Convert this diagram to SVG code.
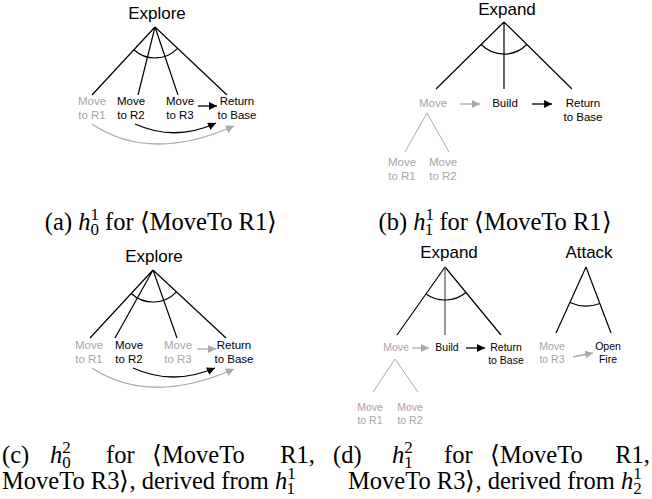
<svg xmlns="http://www.w3.org/2000/svg" width="652" height="499" viewBox="0 0 652 499">
<style>
.t{font-family:"Liberation Sans",Arial,sans-serif;font-size:17px;fill:#000;text-anchor:middle}
.l{font-family:"Liberation Sans",Arial,sans-serif;font-size:11.5px;text-anchor:middle}
.s{font-family:"Liberation Sans",Arial,sans-serif;font-size:10.5px;text-anchor:middle}
.k{fill:#000}
.g{fill:#a6a6a6}
.e{fill:none;stroke:#000;stroke-width:1.2}
.eg{fill:none;stroke:#aaaaaa;stroke-width:1}
.ak{fill:none;stroke:#000;stroke-width:1.3}
.ag{fill:none;stroke:#aaaaaa;stroke-width:1.3}
.c{font-family:"Liberation Serif","Times New Roman",serif;font-size:24.5px;fill:#000}
.i{font-style:italic}
.sc{font-size:17px}
</style>
<defs>
<marker id="mk" markerUnits="userSpaceOnUse" markerWidth="9" markerHeight="8" refX="8" refY="4" orient="auto"><path d="M0,0 L8,4 L0,8 z" fill="#000"/></marker>
<marker id="mg" markerUnits="userSpaceOnUse" markerWidth="9" markerHeight="8" refX="8" refY="4" orient="auto"><path d="M0,0 L8,4 L0,8 z" fill="#aaaaaa"/></marker>
</defs>

<g id="connectors">
<!-- (a) -->
<path class="e" d="M155,27 L92,95 M155,27 L138,95 M155,27 L178,95 M155,27 L227,95"/>
<path class="e" d="M133.9,49.7 A31,31 0 0 0 177.5,48.3"/>
<path class="ak" d="M198,106 L217,106" marker-end="url(#mk)"/>
<path class="ak" d="M135,124 Q175,142 216,123" marker-end="url(#mk)"/>
<path class="ag" d="M92,124 Q150,163 234,126" marker-end="url(#mg)"/>
<!-- (b) -->
<path class="e" d="M504,22 L436,89 M504,22 L504,89 M504,22 L572,89"/>
<path class="e" d="M481.2,44.5 A32,32 0 0 0 526.8,44.5"/>
<path class="eg" d="M427,113 L405,152 M427,113 L449,152"/>
<path class="ag" d="M460,104 L480,104" marker-end="url(#mg)"/>
<path class="ak" d="M532,104 L552,104" marker-end="url(#mk)"/>
<!-- (c) -->
<path class="e" d="M153,270 L90,338 M153,270 L115,338 M153,270 L177,338 M153,270 L226,338"/>
<path class="e" d="M131.25,293.5 A32,32 0 0 0 176.4,291.8"/>
<path class="ag" d="M197,349 L216,349" marker-end="url(#mg)"/>
<path class="ak" d="M133,368 Q173,386 215,368" marker-end="url(#mk)"/>
<path class="ag" d="M92,368 Q150,406 234,369" marker-end="url(#mg)"/>
<!-- (d) -->
<path class="e" d="M445,267 L397,335 M445,267 L501,335"/>
<path d="M445,267 L445,335" fill="none" stroke="#555" stroke-width="1.2"/>
<path class="e" d="M425.96,293.97 A33,33 0 0 0 465.98,292.47"/>
<path class="eg" d="M395,359 L373,392 M395,359 L418,392"/>
<path class="ag" d="M412,348 L429,348" marker-end="url(#mg)"/>
<path class="ak" d="M466,348 L485,348" marker-end="url(#mk)"/>
<path class="e" d="M586,267 L556,333 M586,267 L611,333"/>
<path class="e" d="M569.9,302.5 A39,39 0 0 0 599.8,303.5"/>
<path class="ag" d="M573,357 L593,353" marker-end="url(#mg)"/>
</g>

<!-- (a) nodes -->
<g id="a-explore"><text class="t" x="157" y="19">Explore</text></g>
<g id="a-moveR1"><text class="l g" x="92" y="105"><tspan x="92">Move</tspan><tspan x="92" dy="14">to R1</tspan></text></g>
<g id="a-moveR2"><text class="l k" x="131" y="105"><tspan x="131">Move</tspan><tspan x="131" dy="14">to R2</tspan></text></g>
<g id="a-moveR3"><text class="l k" x="180" y="105"><tspan x="180">Move</tspan><tspan x="180" dy="14">to R3</tspan></text></g>
<g id="a-return"><text class="l k" x="237" y="105"><tspan x="237">Return</tspan><tspan x="237" dy="14">to Base</tspan></text></g>

<!-- (b) nodes -->
<g id="b-expand"><text class="t" x="507" y="15">Expand</text></g>
<g id="b-move"><text class="l g" x="433" y="107">Move</text></g>
<g id="b-build"><text class="l k" x="505" y="107">Build</text></g>
<g id="b-return"><text class="l k" x="583" y="107"><tspan x="583">Return</tspan><tspan x="583" dy="14">to Base</tspan></text></g>
<g id="b-moveR1"><text class="l g" x="402" y="166"><tspan x="402">Move</tspan><tspan x="402" dy="14">to R1</tspan></text></g>
<g id="b-moveR2"><text class="l g" x="443" y="166"><tspan x="443">Move</tspan><tspan x="443" dy="14">to R2</tspan></text></g>

<!-- (c) nodes -->
<g id="c-explore"><text class="t" x="154" y="262">Explore</text></g>
<g id="c-moveR1"><text class="l g" x="89" y="349"><tspan x="89">Move</tspan><tspan x="89" dy="14">to R1</tspan></text></g>
<g id="c-moveR2"><text class="l k" x="129" y="349"><tspan x="129">Move</tspan><tspan x="129" dy="14">to R2</tspan></text></g>
<g id="c-moveR3"><text class="l g" x="178" y="349"><tspan x="178">Move</tspan><tspan x="178" dy="14">to R3</tspan></text></g>
<g id="c-return"><text class="l k" x="234" y="349"><tspan x="234">Return</tspan><tspan x="234" dy="14">to Base</tspan></text></g>

<!-- (d) nodes -->
<g id="d-expand"><text class="t" x="449" y="258">Expand</text></g>
<g id="d-move"><text class="s g" x="396" y="351">Move</text></g>
<g id="d-build"><text class="s k" x="447" y="351">Build</text></g>
<g id="d-return"><text class="s k" x="506" y="351"><tspan x="506">Return</tspan><tspan x="506" dy="13">to Base</tspan></text></g>
<g id="d-moveR1"><text class="s g" x="370" y="411"><tspan x="370">Move</tspan><tspan x="370" dy="13">to R1</tspan></text></g>
<g id="d-moveR2"><text class="s g" x="410" y="411"><tspan x="410">Move</tspan><tspan x="410" dy="13">to R2</tspan></text></g>
<g id="d-attack"><text class="t" x="589" y="258">Attack</text></g>
<g id="d-moveR3"><text class="s g" x="552" y="350"><tspan x="552">Move</tspan><tspan x="552" dy="13">to R3</tspan></text></g>
<g id="d-openfire"><text class="s k" x="608" y="350"><tspan x="608">Open</tspan><tspan x="608" dy="13">Fire</tspan></text></g>

<!-- captions -->
<g id="captions">
<text class="c" x="161" y="230" text-anchor="middle">(a) <tspan class="i">h</tspan><tspan class="sc" dy="-10">1</tspan><tspan class="sc" dx="-8.5" dy="15">0</tspan><tspan dy="-5"> for ⟨MoveTo R1⟩</tspan></text>
<text class="c" x="495" y="230" text-anchor="middle">(b) <tspan class="i">h</tspan><tspan class="sc" dy="-10">1</tspan><tspan class="sc" dx="-8.5" dy="15">1</tspan><tspan dy="-5"> for ⟨MoveTo R1⟩</tspan></text>

<text class="c" x="2" y="463">(c)</text>
<text class="c" x="50" y="463"><tspan class="i">h</tspan><tspan class="sc" dy="-10">2</tspan><tspan class="sc" dx="-8.5" dy="15">0</tspan></text>
<text class="c" x="106" y="463">for</text>
<text class="c" x="152" y="463">⟨MoveTo</text>
<text class="c" x="315" y="463" text-anchor="end">R1,</text>
<text class="c" x="2" y="489">MoveTo R3⟩, derived from <tspan class="i">h</tspan><tspan class="sc" dy="-10">1</tspan><tspan class="sc" dx="-8.5" dy="15">1</tspan></text>

<text class="c" x="333" y="463">(d)</text>
<text class="c" x="392" y="463"><tspan class="i">h</tspan><tspan class="sc" dy="-10">2</tspan><tspan class="sc" dx="-8.5" dy="15">1</tspan></text>
<text class="c" x="444" y="463">for</text>
<text class="c" x="490" y="463">⟨MoveTo</text>
<text class="c" x="650" y="463" text-anchor="end">R1,</text>
<text class="c" x="348" y="489">MoveTo R3⟩, derived from <tspan class="i">h</tspan><tspan class="sc" dy="-10">1</tspan><tspan class="sc" dx="-8.5" dy="15">2</tspan></text>
</g>
</svg>
